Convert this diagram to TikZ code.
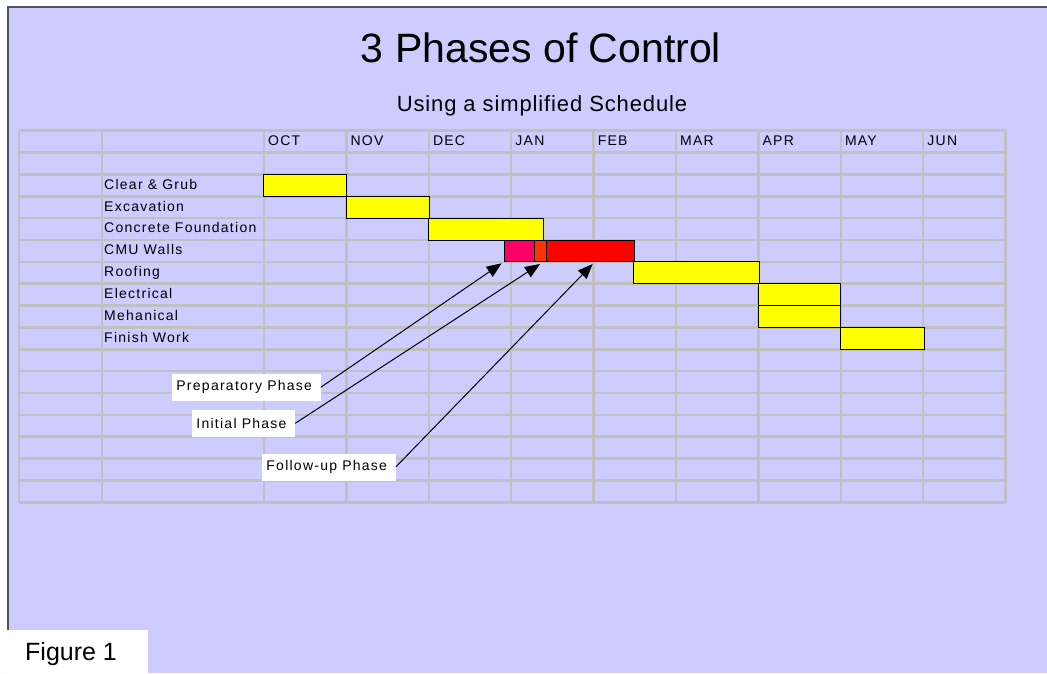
\documentclass[tikz,border=0pt]{standalone}
\usepackage{fontspec}
\setmainfont{Liberation Sans}
\newfontfamily\spaced[LetterSpace=9]{Liberation Sans}
\newfontfamily\subspaced[LetterSpace=4]{Liberation Sans}
\usetikzlibrary{arrows.meta}
\definecolor{bgblue}{HTML}{CCCCFF}
\definecolor{gridgray}{HTML}{C0C0C0}
\definecolor{framegray}{HTML}{505060}
\definecolor{prepink}{HTML}{FF0066}
\definecolor{initorange}{HTML}{FF3300}
\definecolor{followred}{HTML}{FF0000}
\definecolor{baryellow}{HTML}{FFFF00}
\begin{document}
\begin{tikzpicture}[x=1pt,y=-1pt,
  gridline/.style={line width=2.5pt, gridgray},
  bar/.style={draw=black, line width=1pt},
  rowlbl/.style={anchor=base west, inner sep=0pt, font=\spaced\fontsize{14}{16}\selectfont},
  callout/.style={anchor=west, fill=white, inner xsep=4.5pt, minimum height=27pt, font=\spaced\fontsize{14}{16}\selectfont, execute at end node=\hspace*{4pt}},
  callarrow/.style={line width=1pt, -{Triangle[length=15pt,width=12pt]}}]
\useasboundingbox (0,0) rectangle (1047,673);
\fill[bgblue] (8,7) rectangle (1047,673);
\draw[line width=2pt, framegray] (8,673) -- (8,7) -- (1047,7);

\node[anchor=base] (title) at (541,62.7) {\fontsize{41}{48}\selectfont 3 Phases of Control};
\node[anchor=base] (subtitle) at (542,111.7) {\subspaced\fontsize{22}{26}\selectfont Using a simplified Schedule};

% grid
\foreach \x in {19,102,264,346.4,428.8,511.2,593.6,676,758.4,840.8,923.2,1005.6}
  \draw[gridline] (\x,130.7) -- (\x,502.3);
\foreach \k in {0,...,17}
  \draw[gridline] (19,{130.7+\k*21.86}) -- (1005.6,{130.7+\k*21.86});

% months
\node[rowlbl] (oct) at (268,145.5) {OCT};
\node[rowlbl] (nov) at (350.4,145.5) {NOV};
\node[rowlbl] (dec) at (432.8,145.5) {DEC};
\node[rowlbl] (jan) at (515.2,145.5) {JAN};
\node[rowlbl] (feb) at (597.6,145.5) {FEB};
\node[rowlbl] (mar) at (680,145.5) {MAR};
\node[rowlbl] (apr) at (762.4,145.5) {APR};
\node[rowlbl] (may) at (844.8,145.5) {MAY};
\node[rowlbl] (jun) at (927.2,145.5) {JUN};

% tasks
\node[rowlbl] (clear) at (104,189.2) {Clear \& Grub};
\node[rowlbl] (excav) at (104,211.1) {Excavation};
\node[rowlbl] (concrete) at (104,232.9) {Concrete Foundation};
\node[rowlbl] (cmu) at (104,254.8) {CMU Walls};
\node[rowlbl] (roof) at (104,276.7) {Roofing};
\node[rowlbl] (elec) at (104,298.5) {Electrical};
\node[rowlbl] (mech) at (104,320.4) {Mehanical};
\node[rowlbl] (finish) at (104,342.3) {Finish Work};

% bars
\draw[bar, fill=baryellow] (263.5,174.4) rectangle (346.5,196.3);
\draw[bar, fill=baryellow] (346.4,196.3) rectangle (429.5,218.1);
\draw[bar, fill=baryellow] (428.8,218.1) rectangle (543,240);
\draw[bar, fill=prepink] (504,240) rectangle (534,261.9);
\draw[bar, fill=initorange] (534,240) rectangle (546,261.9);
\draw[bar, fill=followred] (546,240) rectangle (634,261.9);
\draw[bar, fill=baryellow] (633.5,261.9) rectangle (759,283.7);
\draw[bar, fill=baryellow] (758.4,283.7) rectangle (840.8,305.6);
\draw[bar, fill=baryellow] (758.4,305.6) rectangle (840.8,327.5);
\draw[bar, fill=baryellow] (840.8,327.5) rectangle (924,349.4);

% phases
\node[callout] (prep) at (171.7,387.3) {Preparatory Phase};
\node[callout] (init) at (191.7,423.3) {Initial Phase};
\node[callout] (follow) at (261.7,467) {Follow-up Phase};
\coordinate (preptip) at (501.7,263.3);
\coordinate (inittip) at (540,264);
\coordinate (followtip) at (592.7,264);
\draw[callarrow] (prep.east) -- (preptip);
\draw[callarrow] (init.east) -- (inittip);
\draw[callarrow] (follow.east) -- (followtip);

\fill[white] (0,630) rectangle (148,673);
\node[anchor=base west, inner sep=0pt] (fig) at (25,660) {\fontsize{25}{30}\selectfont Figure 1};
\end{tikzpicture}
\end{document}
